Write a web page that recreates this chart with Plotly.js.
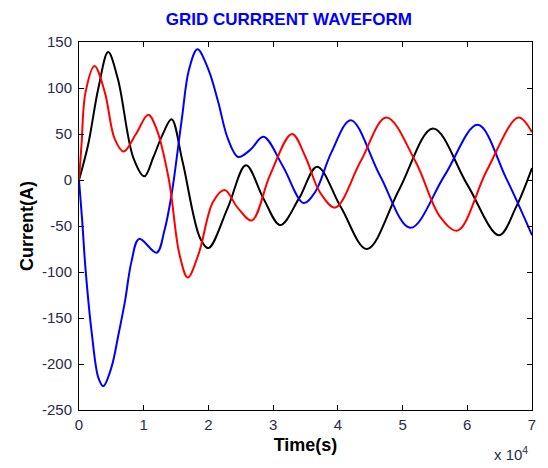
<!DOCTYPE html>
<html>
<head>
<meta charset="utf-8">
<script src="https://cdn.plot.ly/plotly-3.0.1.min.js"></script>
<style>html,body{margin:0;padding:0;background:#fff;}#chart{width:548px;height:468px;}</style>
</head>
<body>
<div id="chart"></div>
<script>
// Time in units of 10^4 s
var redT = [0, 0.04, 0.1, 0.24, 0.4, 0.55, 0.69, 0.88, 1.07, 1.2, 1.39, 1.55, 1.68, 1.85, 2.07, 2.25, 2.45, 2.67, 2.95, 3.29, 3.5, 3.72, 3.96, 4.35, 4.75, 5.2, 5.58, 5.85, 6.3, 6.79, 7.0];
var redI = [0, 40, 95, 124, 95, 45, 31, 50, 71, 55, 0, -80, -106, -80, -24, -11, -30, -44, 5, 50, 25, -13, -30, 20, 68, 20, -40, -55, 10, 68, 52];

var blackT = [0, 0.14, 0.3, 0.45, 0.6, 0.84, 1.01, 1.15, 1.29, 1.43, 1.6, 1.87, 2.0, 2.3, 2.58, 2.85, 3.11, 3.4, 3.68, 4.05, 4.45, 4.95, 5.47, 6.0, 6.49, 6.75, 7.0];
var blackI = [0, 38, 100, 139, 110, 24, 4, 25, 49, 66, 20, -63, -74, -30, 16, -20, -49, -20, 14.5, -30, -75, -10, 56, -5, -60, -30, 13];

var blueT = [0, 0.05, 0.1, 0.2, 0.3, 0.376, 0.5, 0.61, 0.71, 0.81, 0.93, 1.2, 1.32, 1.43, 1.59, 1.7, 1.83, 2.0, 2.15, 2.3, 2.46, 2.65, 2.85, 3.15, 3.47, 3.65, 3.9, 4.2, 4.65, 5.12, 5.65, 6.16, 6.6, 7.0];
var blueI = [0, -45, -96, -168, -215, -224, -204, -168, -132, -89, -64, -79, -55, -16, 67, 120, 142, 120, 85, 45, 25, 33, 47, 15, -25, -13, 30, 65, 5, -52, 5, 60, 2, -60];

var xTicks = [0, 1, 2, 3, 4, 5, 6, 7];
var yTicks = [-250, -200, -150, -100, -50, 0, 50, 100, 150];
var yTickText = ['-250', '-200', '-150', '-100', '-50', '0', '50', '100', '150'];

function tr(t, i, c) {
  return {x: t, y: i, type: 'scatter', mode: 'lines',
    line: {color: c, width: 2, shape: 'spline', smoothing: 1}, hoverinfo: 'skip'};
}

var data = [tr(blackT, blackI, '#000000'), tr(blueT, blueI, '#0000ff'), tr(redT, redI, '#ff0000')];

var FONT = 'Liberation Sans, Arial, sans-serif';
var tickFont = {family: FONT, size: 15, color: '#2b2b4a'};
var layout = {
  width: 548, height: 468,
  margin: {l: 79, r: 16, t: 42, b: 58},
  paper_bgcolor: '#ffffff', plot_bgcolor: '#ffffff',
  showlegend: false,
  title: {text: '<b>GRID CURRRENT WAVEFORM</b>', x: 0.527, xanchor: 'center', y: 0.959, yanchor: 'middle',
    font: {family: FONT, size: 17, color: '#0000ff'}},
  xaxis: {range: [0, 7], tickvals: xTicks, ticks: 'inside', ticklen: 5, tickcolor: '#000',
    showline: true, linecolor: '#000', linewidth: 1, mirror: 'ticks', showgrid: false, zeroline: false,
    tickfont: tickFont, ticklabelstandoff: 1,
    title: {text: '<b>Time(s)</b>', standoff: 6, font: {family: FONT, size: 18, color: '#000'}}},
  yaxis: {range: [-250, 150], tickvals: yTicks, ticktext: yTickText, ticks: 'inside', ticklen: 5, tickcolor: '#000',
    showline: true, linecolor: '#000', linewidth: 1, mirror: 'ticks', showgrid: false, zeroline: false,
    tickfont: tickFont, ticklabelstandoff: 3,
    title: {text: '<b>Current(A)</b>', standoff: 3, font: {family: FONT, size: 18, color: '#000'}}},
  annotations: [{text: 'x 10<sup>4</sup>', xref: 'paper', yref: 'paper', x: 0.995, y: -0.118,
    xanchor: 'right', yanchor: 'middle', showarrow: false,
    font: {family: FONT, size: 15, color: '#2b2b4a'}}]
};

Plotly.newPlot('chart', data, layout, {displayModeBar: false, staticPlot: true});
</script>
</body>
</html>
